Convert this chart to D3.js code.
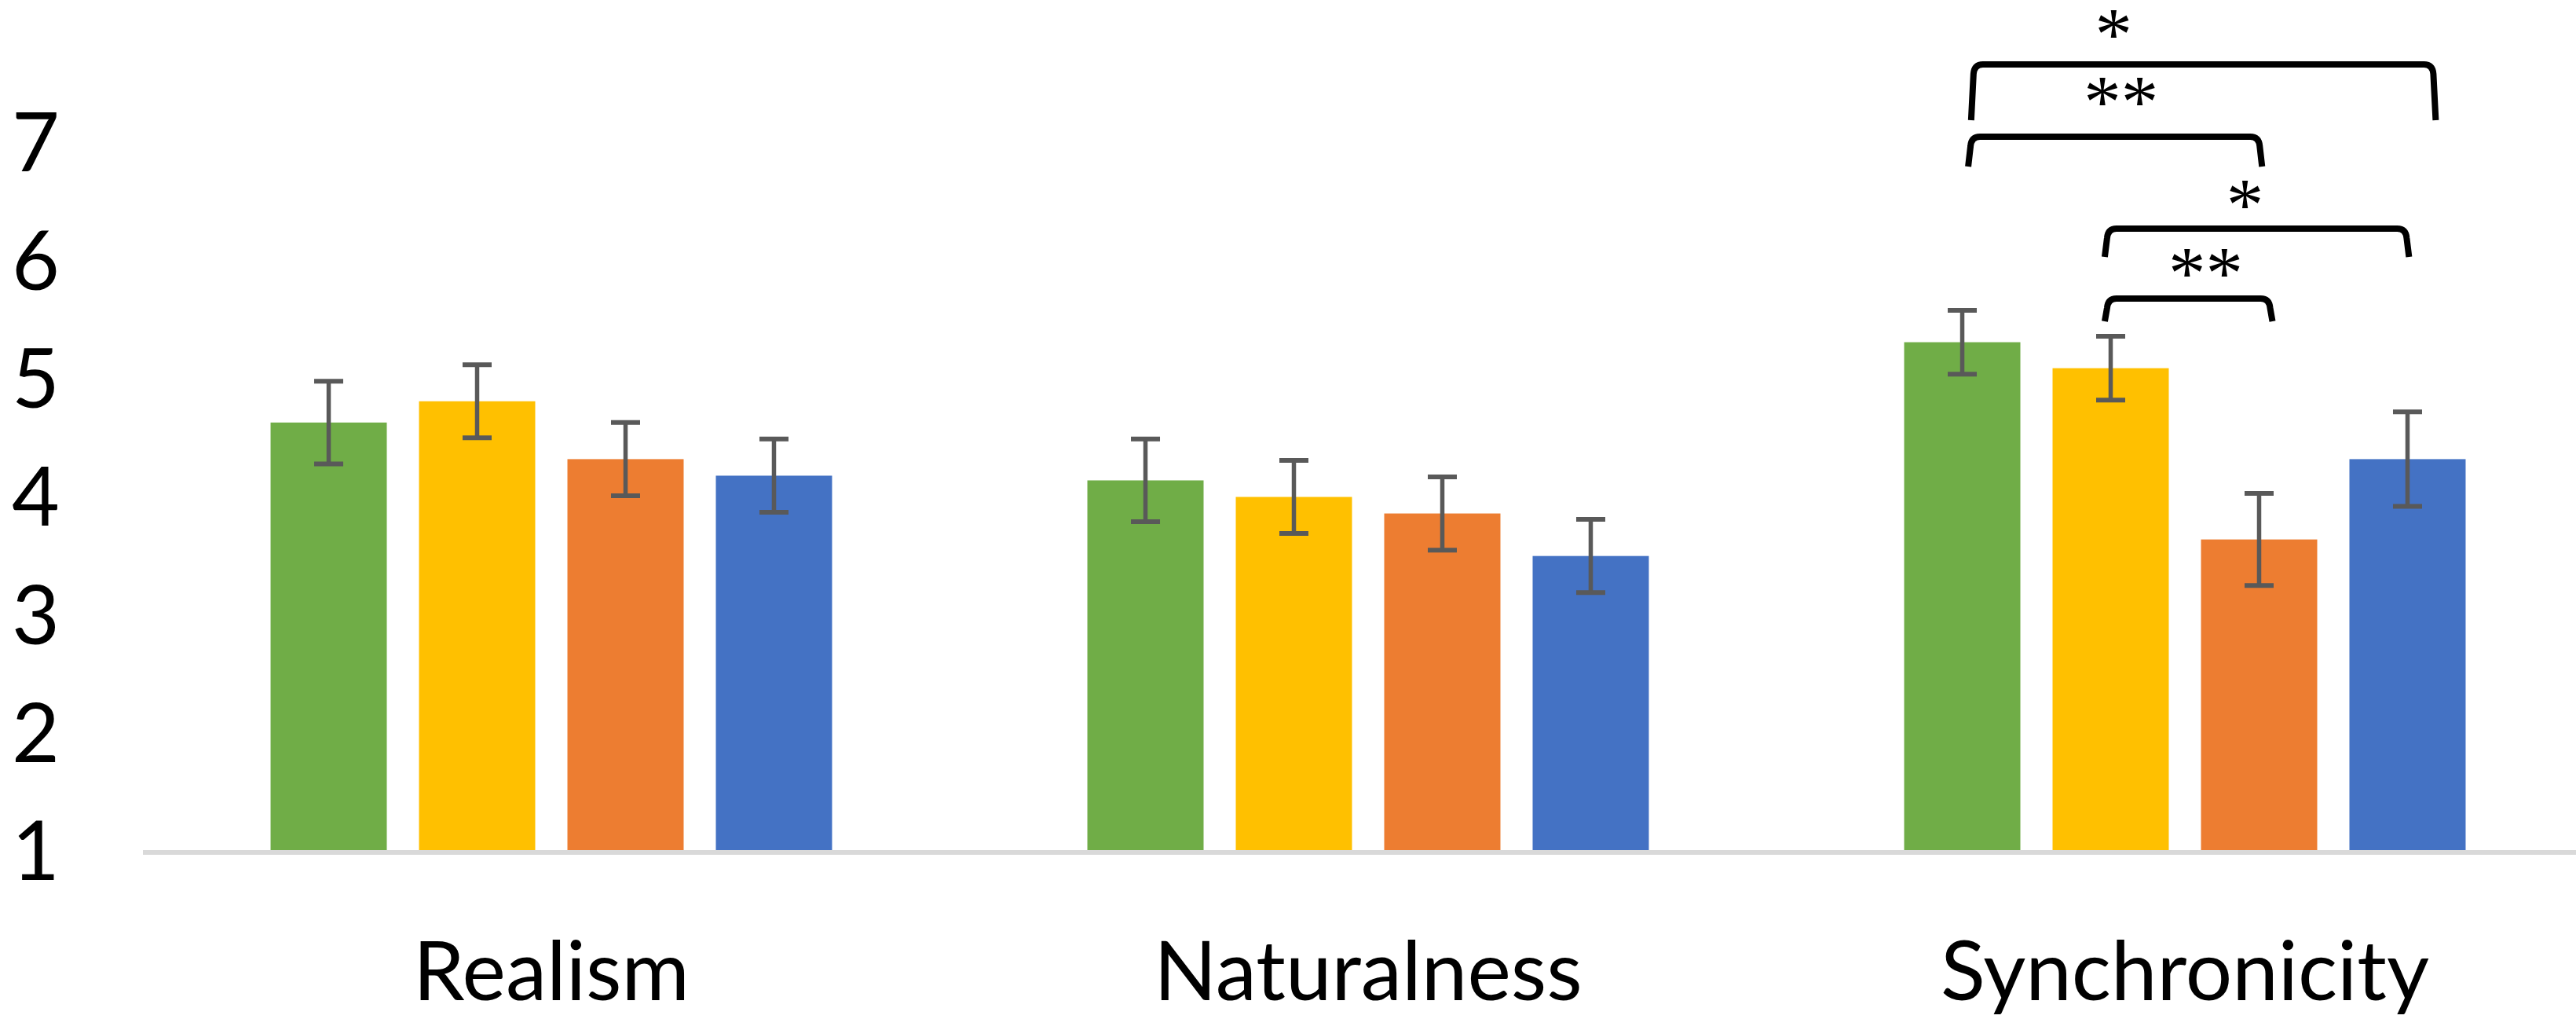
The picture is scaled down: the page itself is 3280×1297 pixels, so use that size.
<!DOCTYPE html>
<html><head><meta charset="utf-8">
<script src="https://cdn.jsdelivr.net/npm/d3@7"></script>
<style>html,body{margin:0;padding:0;background:#fff;}svg{display:block;}</style>
</head><body>
<svg id="chart" width="3280" height="1297"></svg>
<script>
const categories = ["Realism", "Naturalness", "Synchronicity"];
const seriesKeys = ["s1", "s2", "s3", "s4"];
const seriesColors = ["#70AD47", "#FFC000", "#ED7D31", "#4472C4"];
const meansRealism = [4.62, 4.80, 4.31, 4.17];
const meansNaturalness = [4.13, 3.99, 3.85, 3.49];
const meansSynchronicity = [5.30, 5.08, 3.63, 4.31];
const errRealism = [0.35, 0.31, 0.31, 0.31];
const errNaturalness = [0.35, 0.31, 0.31, 0.31];
const errSynchronicity = [0.27, 0.27, 0.39, 0.40];
const yTicks = [1, 2, 3, 4, 5, 6, 7];
// significance brackets within Synchronicity (series index positions, value levels)
const bracketFrom = [0.06, 0.04, 0.96, 0.96];
const bracketTo = [3.19, 2.02, 3.01, 2.09];
const bracketTop = [7.652, 7.04, 6.262, 5.67];
const bracketBottom = [7.18, 6.787, 6.022, 5.477];
const bracketLabels = ["*", "**", "*", "**"];
const labelPos = [1.02, 1.07, 1.905, 1.64];
const labelLevel = [7.991, 7.416, 6.548, 5.969];

const means = [meansRealism, meansNaturalness, meansSynchronicity];
const errs = [errRealism, errNaturalness, errSynchronicity];
const rows = [];
categories.forEach((c, ci) => seriesKeys.forEach((s, si) => rows.push({cat: c, key: s, si, v: means[ci][si], e: errs[ci][si]})));

const svg = d3.select("#chart");
const FONT = "Lato, 'Liberation Sans', sans-serif";
const x0 = d3.scaleBand().domain(categories).range([182, 3302]).padding(0);
const x1 = d3.scaleBand().domain(seriesKeys).range([0, x0.bandwidth()]).paddingInner(0.217).paddingOuter(0.86);
const y = d3.scaleLinear().domain([1, 7]).range([1082, 180]);

// category axis line
svg.append("line").attr("x1", 182).attr("x2", 3280).attr("y1", y(1) + 3).attr("y2", y(1) + 3)
  .attr("stroke", "#D9D9D9").attr("stroke-width", 6);

// bars
svg.append("g").selectAll("rect").data(rows).join("rect")
  .attr("x", d => x0(d.cat) + x1(d.key))
  .attr("width", x1.bandwidth())
  .attr("y", d => y(d.v))
  .attr("height", d => y(1) - y(d.v))
  .attr("fill", d => seriesColors[d.si]);

// error bars
const eg = svg.append("g").attr("stroke", "#595959");
rows.forEach(d => {
  const cx = x0(d.cat) + x1(d.key) + x1.bandwidth() / 2;
  eg.append("line").attr("x1", cx).attr("x2", cx).attr("y1", y(d.v + d.e)).attr("y2", y(d.v - d.e)).attr("stroke-width", 5.5);
  [d.v + d.e, d.v - d.e].forEach(t => eg.append("line").attr("x1", cx - 18.5).attr("x2", cx + 18.5)
    .attr("y1", y(t)).attr("y2", y(t)).attr("stroke-width", 6));
});

// y axis
const ya = svg.append("g").attr("transform", "translate(76,0)")
  .call(d3.axisLeft(y).tickValues(yTicks).tickSize(0).tickPadding(0).tickFormat(d3.format("d")));
ya.select(".domain").remove();
ya.selectAll("text").attr("font-family", FONT).attr("font-size", 105).attr("fill", "#000").attr("dy", "0.36em");

// x axis
const xa = svg.append("g").attr("transform", `translate(0,${y(1)})`)
  .call(d3.axisBottom(x0).tickSize(0));
xa.select(".domain").remove();
xa.selectAll("text").attr("font-family", FONT).attr("font-size", 105).attr("fill", "#000").attr("y", 191).attr("dy", 0);

// significance brackets
const syncCat = "Synchronicity";
const pos = f => x0(syncCat) + x1(seriesKeys[0]) + x1.bandwidth() / 2 + f * x1.step();
const bg = svg.append("g");
bracketFrom.forEach((f, i) => {
  const xl = pos(f), xr = pos(bracketTo[i]), yt = y(bracketTop[i]), yb = y(bracketBottom[i]);
  const p = d3.path();
  p.moveTo(xl, yb);
  p.lineTo(xl + 3, yt + 12);
  p.quadraticCurveTo(xl + 4, yt, xl + 15, yt);
  p.lineTo(xr - 15, yt);
  p.quadraticCurveTo(xr - 4, yt, xr - 3, yt + 12);
  p.lineTo(xr, yb);
  bg.append("path").attr("d", p.toString()).attr("fill", "none").attr("stroke", "#000").attr("stroke-width", 8);
  bg.append("text").attr("x", pos(labelPos[i])).attr("y", y(labelLevel[i]))
    .attr("text-anchor", "middle").attr("font-family", "'Liberation Serif', 'DejaVu Serif', serif").attr("font-size", 95)
    .attr("dy", "0.47em").text(bracketLabels[i]);
});
</script>
</body></html>
